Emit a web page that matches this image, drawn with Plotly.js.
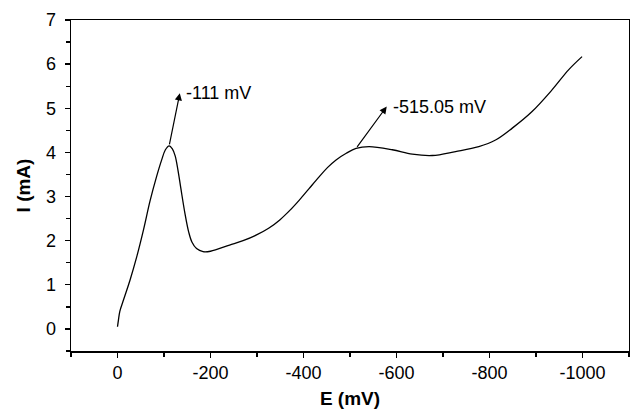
<!DOCTYPE html>
<html><head><meta charset="utf-8">
<script src="https://cdn.plot.ly/plotly-3.0.1.min.js"></script>
<style>html,body{margin:0;padding:0;background:#fff}#c{width:630px;height:413px}</style>
</head><body><div id="c"></div>
<script>
const E_mV = [0, -2, -5, -13, -27, -41, -56, -70, -84, -95, -103, -111, -118, -124, -130, -136, -145, -153, -160, -170, -184, -200, -241, -270, -299, -325, -349, -370, -391, -412, -434, -452, -470, -492, -513, -541, -591, -634, -677, -727, -777, -813, -849, -891, -934, -970, -999];
const I_mA = [0.05, 0.2, 0.4, 0.66, 1.11, 1.62, 2.25, 2.9, 3.45, 3.83, 4.06, 4.15, 4.08, 3.92, 3.6, 3.2, 2.62, 2.2, 1.97, 1.82, 1.75, 1.76, 1.9, 2.0, 2.13, 2.28, 2.47, 2.68, 2.92, 3.18, 3.45, 3.66, 3.83, 3.98, 4.09, 4.13, 4.06, 3.96, 3.93, 4.02, 4.13, 4.28, 4.55, 4.92, 5.41, 5.87, 6.17];
const peakLabels = ['-111 mV', '-515.05 mV'];
const peakE = [-111, -513];
const peakI = [4.15, 4.09];
const tipE = [-134, -579];
const tipI = [5.34, 5.04];
const xTicks = [0, -200, -400, -600, -800, -1000];
const yTicks = [0, 1, 2, 3, 4, 5, 6, 7];

const font = 'Liberation Sans, Arial, sans-serif';
const annotations = [];
for (let i = 0; i < peakLabels.length; i++) {
  annotations.push({x: tipE[i], y: tipI[i], ax: peakE[i], ay: peakI[i], axref: 'x', ayref: 'y', xref: 'x', yref: 'y',
    text: '', showarrow: true, arrowhead: 2, arrowsize: 1.2, arrowwidth: 1.2, arrowcolor: '#000', standoff: 0, startstandoff: 0});
  annotations.push({x: tipE[i], y: tipI[i], xref: 'x', yref: 'y', text: peakLabels[i], showarrow: false,
    xanchor: 'left', yanchor: 'middle', xshift: 4, font: {family: font, size: 18, color: '#000'}});
}

const data = [{x: E_mV, y: I_mA, type: 'scatter', mode: 'lines', line: {color: '#000', width: 1.3, shape: 'spline', smoothing: 1}, hoverinfo: 'none'}];
const layout = {
  width: 630, height: 413,
  margin: {l: 71, r: 1, t: 20, b: 62},
  paper_bgcolor: '#fff', plot_bgcolor: '#fff',
  showlegend: false,
  font: {family: font, color: '#000'},
  xaxis: {range: [100, -1100], tickvals: xTicks, ticktext: xTicks.map(String), ticks: 'outside', ticklen: 5, tickwidth: 1.3,
    tickcolor: '#000', showline: true, linecolor: '#000', linewidth: 1.5, mirror: true, showgrid: false, zeroline: false,
    tickfont: {size: 18, family: font}, minor: {dtick: 100, tick0: 0, ticks: 'outside', ticklen: 4, tickwidth: 1.3, tickcolor: '#000', showgrid: false},
    title: {text: '<b>E (mV)</b>', font: {size: 19, family: font}, standoff: 9}},
  yaxis: {range: [-0.5, 7], tickvals: yTicks, ticks: 'outside', ticklen: 5, tickwidth: 1.3, ticklabelstandoff: 5,
    tickcolor: '#000', showline: true, linecolor: '#000', linewidth: 1.5, mirror: true, showgrid: false, zeroline: false,
    tickfont: {size: 18, family: font}, minor: {dtick: 0.5, tick0: 0, ticks: 'outside', ticklen: 4, tickwidth: 1.3, tickcolor: '#000', showgrid: false},
    title: {text: '<b>I (mA)</b>', font: {size: 19, family: font}, standoff: 10}},
  annotations: annotations
};
Plotly.newPlot('c', data, layout, {displayModeBar: false, staticPlot: true});
</script></body></html>
